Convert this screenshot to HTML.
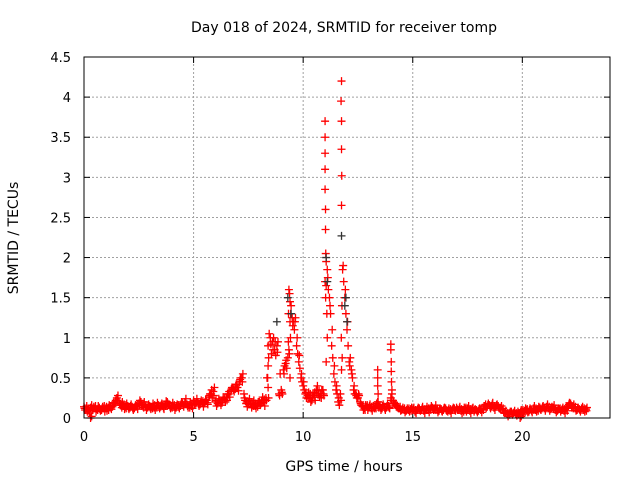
<!DOCTYPE html>
<html><head><meta charset="utf-8"><style>
body{margin:0;background:#fff}
svg{display:block;font-family:"DejaVu Sans","Liberation Sans",Arial,sans-serif}
</style></head><body>
<svg id="chart" width="640" height="480" viewBox="0 0 640 480">
<text x="344" y="32" font-size="14" text-anchor="middle">Day 018 of 2024, SRMTID for receiver tomp</text>
<text transform="translate(18,238) rotate(-90)" font-size="14" text-anchor="middle">SRMTID / TECUs</text>
<text x="344" y="471" font-size="14" text-anchor="middle">GPS time / hours</text>
<g id="grid"></g>
<g id="ticks"></g>
<g id="pts"></g>
<rect x="84" y="57" width="526" height="361" fill="none" stroke="#000" stroke-width="1"/>
</svg>
<script>
const xTicks=[0,5,10,15,20];
const yTicks=[0,0.5,1,1.5,2,2.5,3,3.5,4,4.5];
const yTickLabels=["0","0.5","1","1.5","2","2.5","3","3.5","4","4.5"];
const step=0.1;
const seriesA=[0.14,0.12,0.1,0.13,0.1,0.12,0.11,0.13,0.1,0.12,
0.12,0.13,0.15,0.14,0.18,0.25,0.2,0.16,0.15,0.14,
0.15,0.13,0.14,0.12,0.15,0.18,0.2,0.16,0.14,0.13,
0.15,0.14,0.13,0.15,0.16,0.14,0.15,0.17,0.2,0.16,
0.15,0.14,0.13,0.16,0.15,0.18,0.2,0.17,0.16,0.15,
0.22,0.18,0.2,0.17,0.19,0.18,0.22,0.26,0.3,0.33,
0.2,0.18,0.22,0.19,0.23,0.25,0.3,0.33,0.38,0.36,
0.38,0.45,0.5,0.3,0.18,0.2,0.17,0.18,0.15,0.16,
0.2,0.22,0.2,0.25,0.9,1.0,0.95,0.85,0.9,0.3,
0.35,0.6,0.68,0.75,1.2,1.25,1.1,0.9,0.7,0.5,
0.4,0.3,0.28,0.25,0.22,0.28,0.35,0.3,0.3,0.35,
1.7,1.85,1.5,0.9,0.55,0.35,0.2,0.3,1.85,1.5,
1.1,0.7,0.6,0.35,0.3,0.25,0.2,0.15,0.12,0.14,
0.13,0.12,0.15,0.14,0.2,0.15,0.12,0.14,0.13,0.15,
0.25,0.22,0.18,0.15,0.12,0.1,0.1,0.09,0.1,0.11,
0.1,0.08,0.1,0.12,0.1,0.09,0.11,0.1,0.12,0.13,
0.12,0.1,0.09,0.11,0.1,0.12,0.08,0.09,0.1,0.12,
0.13,0.1,0.09,0.1,0.11,0.12,0.09,0.1,0.08,0.1,
0.09,0.1,0.12,0.15,0.14,0.16,0.15,0.13,0.14,0.15,
0.12,0.1,0.06,0.05,0.06,0.08,0.06,0.05,0.08,0.06,
0.08,0.09,0.1,0.08,0.1,0.12,0.1,0.11,0.13,0.12,
0.12,0.14,0.12,0.11,0.13,0.1,0.09,0.11,0.1,0.09,
0.12,0.15,0.18,0.14,0.12,0.1,0.11,0.12,0.1,0.11];
const seriesB=[0.1,0.08,0.06,0.16,0.14,0.08,0.15,0.09,0.14,0.08,
0.09,0.16,0.11,0.19,0.22,0.28,0.16,0.2,0.11,0.18,
0.11,0.17,0.1,0.16,0.11,0.22,0.15,0.2,0.1,0.17,
0.11,0.18,0.1,0.19,0.12,0.18,0.11,0.21,0.16,0.12,
0.19,0.1,0.17,0.12,0.2,0.14,0.24,0.13,0.2,0.12,
0.17,0.24,0.15,0.22,0.14,0.23,0.17,0.3,0.25,0.38,
0.15,0.24,0.16,0.26,0.2,0.3,0.26,0.38,0.33,0.42,
0.34,0.5,0.55,0.22,0.14,0.24,0.13,0.22,0.12,0.2,
0.16,0.26,0.15,0.5,1.05,0.8,1.0,0.78,0.95,0.55,
0.3,0.65,0.62,0.85,1.4,1.2,1.25,0.8,0.62,0.45,
0.35,0.25,0.32,0.2,0.3,0.22,0.4,0.26,0.35,0.28,
1.95,1.6,1.3,0.75,0.45,0.3,0.16,0.6,1.7,1.3,
0.9,0.75,0.5,0.3,0.25,0.28,0.16,0.1,0.16,0.1,
0.17,0.09,0.12,0.18,0.13,0.1,0.17,0.1,0.18,0.12,
0.3,0.18,0.14,0.12,0.09,0.13,0.07,0.12,0.08,0.13,
0.13,0.06,0.13,0.09,0.14,0.06,0.14,0.07,0.15,0.1,
0.16,0.07,0.12,0.08,0.13,0.09,0.12,0.06,0.13,0.09,
0.1,0.14,0.06,0.13,0.08,0.15,0.06,0.13,0.11,0.07,
0.12,0.07,0.15,0.12,0.18,0.12,0.19,0.1,0.17,0.12,
0.15,0.07,0.09,0.02,0.08,0.04,0.09,0.03,0.06,0.1,
0.05,0.12,0.07,0.12,0.07,0.15,0.08,0.14,0.1,0.15,
0.09,0.17,0.09,0.14,0.16,0.07,0.12,0.08,0.13,0.06,
0.09,0.19,0.13,0.17,0.09,0.13,0.08,0.14,0.08,0.13];
const seriesC=[0.12,0.15,0.09,0.11,0.12,0.15,0.1,0.11,0.12,0.15,
0.14,0.1,0.13,0.16,0.2,0.22,0.18,0.13,0.17,0.12,
0.13,0.15,0.12,0.14,0.17,0.16,0.17,0.13,0.16,0.15,
0.13,0.12,0.16,0.13,0.14,0.16,0.13,0.15,0.18,0.14,
0.13,0.16,0.15,0.14,0.17,0.16,0.18,0.15,0.13,0.18,
0.2,0.2,0.17,0.19,0.21,0.2,0.19,0.28,0.35,0.28,
0.22,0.2,0.19,0.22,0.25,0.22,0.33,0.36,0.35,0.4,
0.42,0.48,0.45,0.25,0.2,0.17,0.2,0.15,0.18,0.14,
0.18,0.19,0.23,0.22,0.75,0.92,0.85,0.95,0.82,0.28,
0.32,0.55,0.72,0.95,1.3,1.15,1.2,1.0,0.78,0.55,
0.45,0.32,0.24,0.3,0.26,0.32,0.3,0.34,0.25,0.3,
1.5,1.75,1.4,1.1,0.65,0.4,0.25,0.22,1.9,1.6,
1.2,0.65,0.55,0.4,0.28,0.3,0.18,0.14,0.1,0.16,
0.15,0.14,0.13,0.12,0.16,0.13,0.15,0.12,0.15,0.13,
0.22,0.2,0.16,0.13,0.14,0.11,0.12,0.1,0.12,0.09,
0.11,0.1,0.11,0.1,0.12,0.11,0.1,0.12,0.1,0.11,
0.1,0.12,0.11,0.09,0.12,0.1,0.1,0.11,0.11,0.1,
0.11,0.12,0.11,0.08,0.13,0.1,0.11,0.12,0.1,0.09,
0.11,0.12,0.1,0.17,0.16,0.14,0.17,0.15,0.16,0.13,
0.1,0.12,0.07,0.06,0.04,0.06,0.07,0.06,0.05,0.08,
0.1,0.07,0.11,0.1,0.09,0.1,0.12,0.09,0.11,0.14,
0.13,0.12,0.14,0.12,0.11,0.12,0.1,0.12,0.11,0.11,
0.14,0.17,0.16,0.12,0.14,0.12,0.1,0.1,0.12,0.09];
const spikeT=[11.0,11.0,11.0,11.0,11.0,11.02,11.02,11.03,11.05,11.08,11.1,11.05,
11.75,11.73,11.75,11.75,11.76,11.75,11.77,11.74,11.78,
13.4,13.4,13.4,13.42,13.42,
14.0,14.0,14.02,14.02,14.03,14.05,
9.35,9.38,9.4,9.33,9.42,9.37,9.4,
8.4,8.38,8.4,8.42,
0.3,0.35,19.9,19.95];
const spikeV=[3.7,3.5,3.3,3.1,2.85,2.6,2.35,2.05,1.65,1.3,1.0,0.7,
4.2,3.95,3.7,3.35,3.02,2.65,1.4,1.0,0.75,
0.6,0.5,0.4,0.3,0.2,
0.92,0.85,0.7,0.58,0.45,0.35,
1.6,1.55,1.45,1.3,1.0,0.8,0.5,
0.65,0.5,0.38,0.25,
0.0,0.02,0.0,0.02];
const blackT=[11.75,11.05,11.1,9.3,9.45,8.8,11.9,11.95,12.0];
const blackV=[2.27,2.0,1.7,1.5,1.3,1.2,1.4,1.5,1.2];
const X0=84,X1=610,Y0=418,Y1=57,XMAX=24,YMAX=4.5;
const xs=v=>X0+(X1-X0)*v/XMAX, ys=v=>Y0-(Y0-Y1)*v/YMAX;
const NS="http://www.w3.org/2000/svg";
const grid=document.getElementById('grid'),ticks=document.getElementById('ticks'),pts=document.getElementById('pts');
function mk(tag,attrs,parent){const e=document.createElementNS(NS,tag);for(const k in attrs)e.setAttribute(k,attrs[k]);parent.appendChild(e);return e;}
xTicks.forEach(v=>{const x=xs(v);
 if(v>0){const l=mk('line',{x1:x,x2:x,y1:Y0,y2:Y1,stroke:'#a0a0a0','stroke-dasharray':'2,2'},grid);
 
 }
 const t=mk('text',{x:x,y:Y0+23,'font-size':13,'text-anchor':'middle'},ticks);t.textContent=v;
 
 
 mk('line',{x1:x,x2:x,y1:Y0,y2:Y0-6,stroke:'#000'},grid);mk('line',{x1:x,x2:x,y1:Y1,y2:Y1+6,stroke:'#000'},grid);});
yTicks.forEach((v,i)=>{const y=ys(v);
 if(v>0&&v<YMAX){const l=mk('line',{x1:X0,x2:X1,y1:y,y2:y,stroke:'#a0a0a0','stroke-dasharray':'2,2'},grid);
 
 }
 const t=mk('text',{x:X0-13,y:y+5,'font-size':13,'text-anchor':'end'},ticks);t.textContent=yTickLabels[i];
 
 
 mk('line',{x1:X0,x2:X0+6,y1:y,y2:y,stroke:'#000'},grid);mk('line',{x1:X1,x2:X1-6,y1:y,y2:y,stroke:'#000'},grid);});
function plus(t,v,color){const x=xs(t),y=ys(v);
 const p=mk('path',{d:`M${x-4},${y}h8M${x},${y-4}v8`,stroke:color,'stroke-width':1.3,fill:'none'},pts);
 
 }
seriesA.forEach((v,i)=>plus(i*step,v,'#f00'));
seriesB.forEach((v,i)=>plus(i*step+step/2,v,'#f00'));
seriesC.forEach((v,i)=>plus(i*step+step/4,v,'#f00'));
spikeT.forEach((t,i)=>plus(t,spikeV[i],'#f00'));
blackT.forEach((t,i)=>plus(t,blackV[i],'#333'));
</script>
</body></html>
